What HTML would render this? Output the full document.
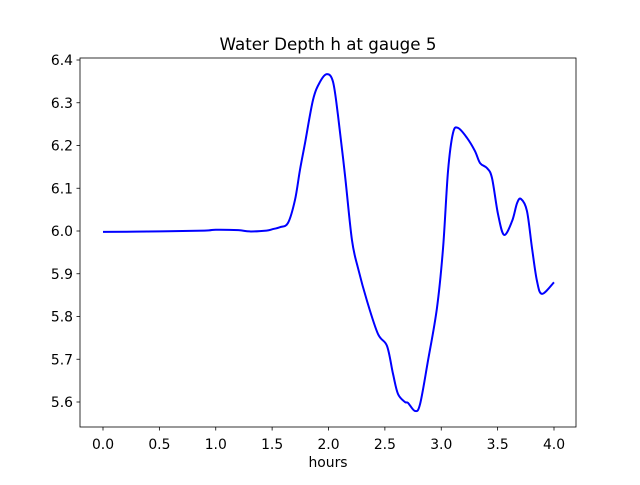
<!DOCTYPE html>
<html><head><meta charset="utf-8"><style>
body{margin:0;background:#fff;}
svg text{font-family:"DejaVu Sans","Liberation Sans",sans-serif;font-size:13.9px;fill:#000;}
</style></head><body>
<svg id="chart" width="640" height="480" xmlns="http://www.w3.org/2000/svg">
<rect x="0" y="0" width="640" height="480" fill="#fff"/>
<text x="328" y="50" text-anchor="middle" style="font-size:16.7px">Water Depth h at gauge 5</text>
<g id="xt"></g><g id="yt"></g>
<path id="line" fill="none" stroke="#0000ff" stroke-width="2"/>
<rect x="80" y="58" width="496" height="369" fill="none" stroke="#000" stroke-width="0.8"/>
<text x="328" y="467" text-anchor="middle">hours</text>
</svg>
<script>
const xTicks=[0.0,0.5,1.0,1.5,2.0,2.5,3.0,3.5,4.0];
const yTicks=[5.6,5.7,5.8,5.9,6.0,6.1,6.2,6.3,6.4];
const hours=[0,0.5,0.9,1.0,1.2,1.3,1.45,1.5,1.570,1.641,1.703,1.747,1.792,1.863,1.925,1.987,2.040,2.084,2.146,2.208,2.262,2.342,2.439,2.519,2.572,2.616,2.678,2.705,2.767,2.812,2.882,2.962,3.016,3.060,3.104,3.149,3.228,3.299,3.344,3.406,3.450,3.503,3.557,3.628,3.672,3.707,3.760,3.805,3.849,3.894,4.0];
const depth=[5.998,5.999,6.001,6.003,6.002,5.999,6.001,6.004,6.009,6.019,6.073,6.143,6.206,6.307,6.349,6.367,6.349,6.271,6.131,5.979,5.913,5.836,5.759,5.731,5.666,5.619,5.600,5.598,5.579,5.595,5.696,5.820,5.960,6.140,6.229,6.241,6.218,6.187,6.159,6.147,6.124,6.040,5.991,6.023,6.065,6.075,6.047,5.960,5.883,5.853,5.880];
const X=v=>103+(v-0)*112.75;
const Y=v=>231-(v-6.0)*427.5;
const ns="http://www.w3.org/2000/svg";
const xt=document.getElementById('xt'),yt=document.getElementById('yt');
xTicks.forEach(t=>{
 const l=document.createElementNS(ns,'line');
 l.setAttribute('x1',X(t));l.setAttribute('x2',X(t));l.setAttribute('y1',427);l.setAttribute('y2',430.5);l.setAttribute('stroke','#000');l.setAttribute('stroke-width','0.8');
 
 
 xt.appendChild(l);
 const s=document.createElementNS(ns,'text');
 s.setAttribute('x',X(t));s.setAttribute('y',449);s.setAttribute('text-anchor','middle');s.textContent=t.toFixed(1);
 
 
 xt.appendChild(s);
});
yTicks.forEach(t=>{
 const l=document.createElementNS(ns,'line');
 l.setAttribute('x1',76.5);l.setAttribute('x2',80);l.setAttribute('y1',Y(t));l.setAttribute('y2',Y(t));l.setAttribute('stroke','#000');l.setAttribute('stroke-width','0.8');
 
 
 yt.appendChild(l);
 const s=document.createElementNS(ns,'text');
 s.setAttribute('x',73);s.setAttribute('y',Y(t)+5);s.setAttribute('text-anchor','end');s.textContent=t.toFixed(1);
 
 
 yt.appendChild(s);
});
const P=hours.map((h,i)=>[X(h),Y(depth[i])]);
let d='M'+P[0][0]+','+P[0][1];
for(let i=0;i<P.length-1;i++){
 const p0=P[Math.max(i-1,0)],p1=P[i],p2=P[i+1],p3=P[Math.min(i+2,P.length-1)];
 const c1=[p1[0]+(p2[0]-p0[0])/6,p1[1]+(p2[1]-p0[1])/6];
 const c2=[p2[0]-(p3[0]-p1[0])/6,p2[1]-(p3[1]-p1[1])/6];
 d+=' C'+c1[0]+','+c1[1]+' '+c2[0]+','+c2[1]+' '+p2[0]+','+p2[1];
}
document.getElementById('line').setAttribute('d',d);
</script>
</body></html>
